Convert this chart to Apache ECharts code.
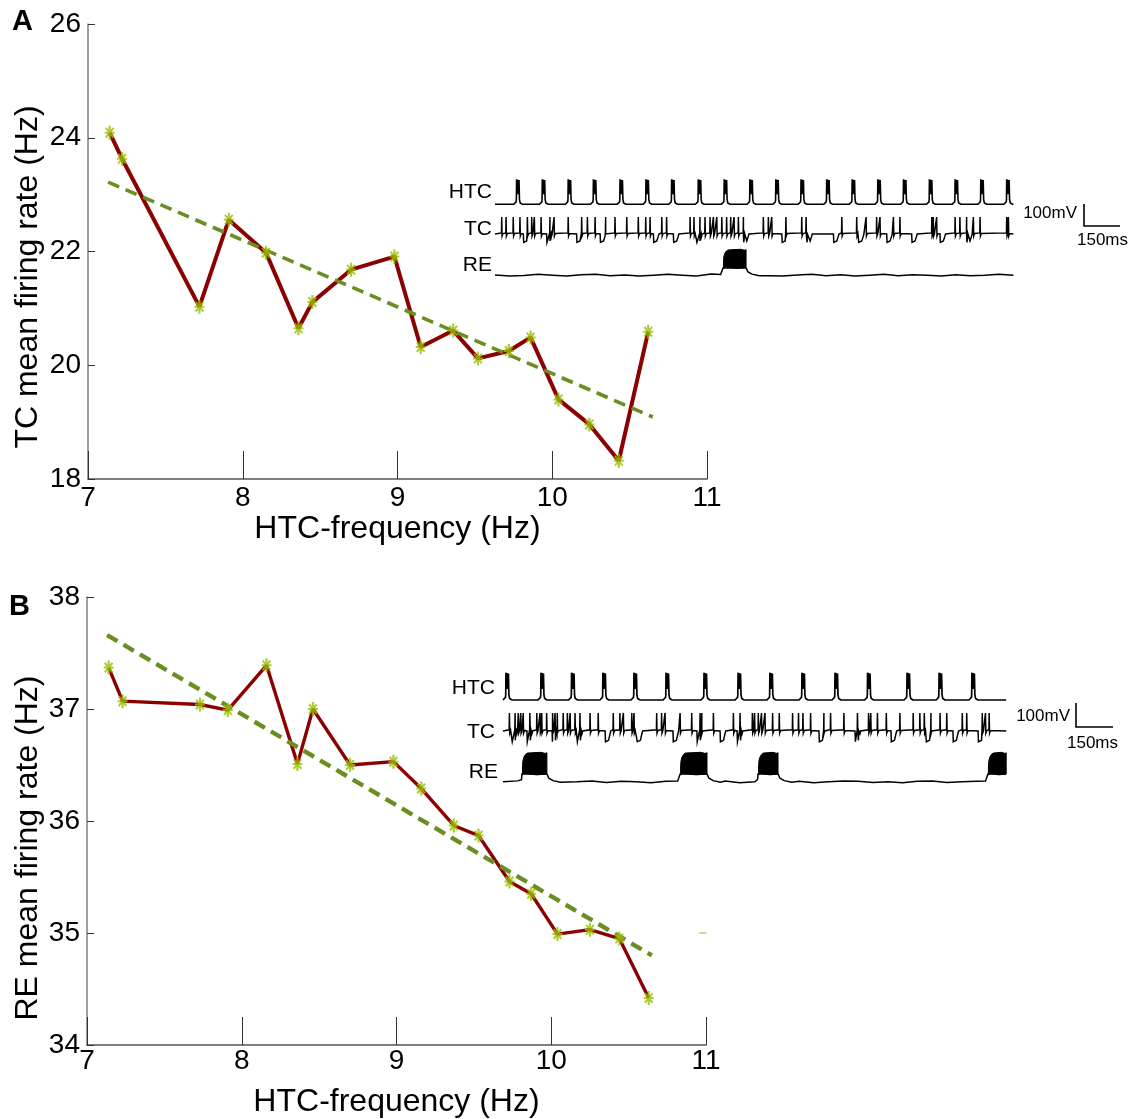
<!DOCTYPE html>
<html>
<head>
<meta charset="utf-8">
<script src="https://cdn.jsdelivr.net/npm/echarts@6/dist/echarts.min.js"></script>
<style>
  html, body { margin: 0; padding: 0; background: #fff; }
  #chart { width: 1133px; height: 1119px; }
</style>
</head>
<body>
<div id="chart"></div>
<script>
// ----- Panel A: TC mean firing rate vs HTC frequency -----
const htcFreqA = [7.14, 7.22, 7.72, 7.91, 8.15, 8.36, 8.45, 8.70, 8.98, 9.15, 9.36, 9.52, 9.72, 9.86, 10.04, 10.24, 10.43, 10.62];
const tcRate   = [24.09, 23.63, 21.03, 22.56, 21.98, 20.65, 21.11, 21.68, 21.91, 20.32, 20.61, 20.12, 20.25, 20.49, 19.40, 18.96, 18.32, 20.59];
const fitAx = [7.13, 10.65];
const fitAy = [23.22, 19.09];

// ----- Panel B: RE mean firing rate vs HTC frequency -----
const htcFreqB = [7.14, 7.23, 7.73, 7.91, 8.16, 8.36, 8.46, 8.70, 8.98, 9.16, 9.37, 9.53, 9.73, 9.87, 10.04, 10.25, 10.44, 10.63];
const reRate   = [37.37, 37.07, 37.04, 36.99, 37.39, 36.51, 37.00, 36.50, 36.53, 36.29, 35.96, 35.87, 35.46, 35.35, 34.99, 35.03, 34.95, 34.42];
const fitBx = [7.13, 10.65];
const fitBy = [37.66, 34.80];
const strayB = [[10.98, 35.0]];   // little green dash right of panel B

// ----- Inset traces (times in ms) -----
const SCALE_MS = 150;
const SCALE_MV = 100;
const RE_STEP = 60;   // ms between baseline samples of RE traces

// inset A
const htcSpikesA = [90, 197, 305, 410, 521, 629, 736, 847, 955, 1062, 1170, 1275, 1382, 1488, 1595, 1702, 1810, 1917, 2024, 2132];
const tcSpikesA = [28, 46, 76, 104, 135, 153, 164, 192, 229, 246, 305, 361, 385, 417, 461, 500, 549, 597, 628, 646, 695, 715,
  813, 829, 854, 875, 896, 910, 924, 945, 965, 982, 996, 1014, 1035, 1118, 1139, 1153, 1212, 1278, 1296, 1445, 1507, 1546,
  1590, 1604, 1660, 1687, 1820, 1826, 1840, 1917, 1937, 1965, 1993, 2021, 2132, 2139];
const tcDipsA = [118, 215, 340, 438, 660, 743, 840, 1035, 1195, 1299, 1410, 1514, 1632, 1736, 1854, 1965];
const reBaseA = [-72, -76, -74, -69, -73, -77, -71, -69, -75, -72, -77, -73, -69, -73, -76, -68, -72, -72, -72,
  -76, -77, -72, -69, -75, -71, -77, -73, -69, -75, -71, -73, -77, -71, -75, -73, -69, -73];
const reBurstsA = [[950, 1046]];

// inset B
const htcSpikesB = [12, 154, 278, 405, 531, 661, 815, 953, 1082, 1212, 1346, 1478, 1638, 1768, 1901];
const tcSpikesB = [26, 49, 62, 72, 82, 109, 137, 150, 157, 177, 201, 211, 220, 244, 261, 272, 292, 312, 353, 386, 447, 474,
  488, 522, 531, 623, 643, 657, 718, 765, 799, 806, 853, 934, 961, 1011, 1020, 1035, 1048, 1062, 1093, 1120, 1174, 1198,
  1216, 1247, 1301, 1328, 1382, 1437, 1482, 1491, 1518, 1554, 1609, 1663, 1690, 1708, 1735, 1772, 1799, 1862, 1880, 1943,
  1956, 1971];
const tcDipsB = [36, 97, 199, 300, 414, 543, 689, 786, 880, 949, 1281, 1427, 1573, 1715, 1824, 1926];
const reBaseB = [-73, -69, -76, -71, -77, -73, -69, -76, -71, -73, -77, -71, -69, -76, -73, -70, -77, -73, -69, -76,
  -71, -77, -73, -69, -71, -76, -73, -77, -71, -69, -76, -73, -71, -72, -72];
const reBurstsB = [[77, 178], [718, 827], [1034, 1115], [1966, 2040]];

// ----- Layout / style -----
const FONT = "'Liberation Sans', Arial, Helvetica, sans-serif";
const NARROW = "'Liberation Sans Narrow', 'Liberation Sans', Arial, sans-serif";
const RED = '#8b0000';
const MARK = '#9abf00';
const FIT = '#6b8e23';
const STAR = 'path://M3.9,0L6.1,0L6.1,14L3.9,14Z M0,6L10,6L10,8L0,8Z M0.4,2.9L1.9,1.5L9.6,11.1L8.1,12.5Z M8.1,1.5L9.6,2.9L1.9,12.5L0.4,11.1Z';

const insetA = { tEnd: 2160, xMax: 2604, yMax: 523, off: { htc: 433, tc: 292, re: 117.5 }, tcPeak: 17, tcDip: -98, blob: { top: 42, bot: -42 }, bar: { t: 2454, v: 268 } };
const insetB = { tEnd: 2040, xMax: 2473, yMax: 525, off: { htc: 441, tc: 306, re: 107 }, tcPeak: 15, tcDip: -105, blob: { top: 47, bot: -44 }, bar: { t: 2323, v: 262.5 } };

// ----- Helpers -----
function zip(xs, ys) { return xs.map((x, i) => [x, ys[i]]); }

function finish(pts, tEnd, off) {
  return pts.filter(p => p[0] >= 0 && p[0] <= tEnd)
    .sort((a, b) => a[0] - b[0])
    .map(p => [p[0], p[1] + off]);
}

// HTC: flat baseline, rounded take-off, thick spike burst
function htcTrace(spikes, tEnd, off) {
  const rest = -66;
  const pts = [[0, rest], [tEnd, rest]];
  const tpl = [[-12, -66], [-5, -63], [-2, -55], [-1, -45], [0, 48], [2, -20], [5, 46], [7, -20], [10, 44], [12, -45], [15, -60], [24, -66]];
  spikes.forEach(t => tpl.forEach(([dt, v]) => pts.push([t + dt, v])));
  return finish(pts, tEnd, off);
}

// TC: spikes plus short hyperpolarising dips
function tcTrace(spikes, dips, tEnd, off, peak, dip) {
  const rest = -60;
  const pts = [[0, rest], [tEnd, rest]];
  spikes.forEach(t => pts.push([t - 1, rest + 5], [t, peak], [t + 1.5, rest - 9], [t + 5, rest + 2]));
  dips.forEach(t => pts.push([t, rest], [t + 1.5, dip], [t + 14, dip + 6], [t + 20, rest - 12], [t + 23, rest]));
  return finish(pts, tEnd, off);
}

// RE: wiggly baseline, bursts drawn separately as filled blobs
function reTrace(base, bursts, tEnd, off) {
  const pts = [];
  base.forEach((v, i) => {
    const t = i * RE_STEP;
    if (bursts.some(([s, e]) => t > s - 12 && t < e + 60)) return;
    pts.push([t, v]);
  });
  bursts.forEach(([s, e]) => {
    pts.push([s - 10, -70], [s - 2, -64], [s, -40]);
    if (e < tEnd) pts.push([e, -40], [e + 8, -58], [e + 25, -68], [e + 55, -75]);
    else pts.push([tEnd, -40]);
  });
  return finish(pts, tEnd, off);
}

function traceSeries(idx, data, width) {
  return {
    type: 'line', xAxisIndex: idx, yAxisIndex: idx, data,
    symbol: 'none', silent: true, clip: false,
    lineStyle: { color: '#000', width: width || 1.3, join: 'miter' }
  };
}

function blobSeries(idx, bursts, inset) {
  return {
    type: 'custom', xAxisIndex: idx, yAxisIndex: idx, silent: true, clip: false,
    data: bursts.map(b => [b[0], b[1], 0]),
    encode: { x: [0, 1], y: 2 },
    renderItem: (params, api) => {
      const s = api.value(0), e = api.value(1);
      const top = inset.blob.top, bot = inset.blob.bot, off = inset.off.re;
      const w = e - s;
      const shape = [[s + 2, bot], [s + 2, -6], [s + 4, top * 0.35], [s + 8, top * 0.65], [s + 14, top * 0.88],
        [s + 22, top], [e - w * 0.25, top + 3], [e - 4, top - 2], [e, top + 2], [e, bot + 4], [e - w * 0.4, bot], [s + 10, bot + 6]];
      return {
        type: 'polygon',
        shape: { points: shape.map(p => api.coord([p[0], p[1] + off])) },
        style: { fill: '#000', stroke: '#000', lineWidth: 1 }
      };
    }
  };
}

function scaleBarSeries(idx, inset) {
  const b = inset.bar;
  return traceSeries(idx, [[b.t, b.v + SCALE_MV], [b.t, b.v], [b.t + SCALE_MS, b.v]], 1.6);
}

function mainXAxis(gridIndex, labelMargin, nameGap) {
  return {
    gridIndex, type: 'value', min: 7, max: 11, interval: 1,
    axisLine: { show: true, lineStyle: { color: '#555', width: 1.5 } },
    axisTick: { show: true, inside: true, length: 28, lineStyle: { color: '#333', width: 1 } },
    axisLabel: { color: '#000', fontSize: 28, fontFamily: FONT, margin: labelMargin, showMinLabel: true, showMaxLabel: true },
    splitLine: { show: false },
    name: 'HTC-frequency (Hz)', nameLocation: 'middle', nameGap,
    nameTextStyle: { color: '#000', fontSize: 32, fontFamily: FONT }
  };
}

function mainYAxis(gridIndex, min, max, interval) {
  return {
    gridIndex, type: 'value', min, max, interval,
    axisLine: { show: true, lineStyle: { color: '#7f7f7f', width: 1.5 } },
    axisTick: { show: true, inside: true, length: 7, lineStyle: { color: '#333', width: 1 } },
    axisLabel: { color: '#000', fontSize: 28, fontFamily: FONT, margin: 7, showMinLabel: true, showMaxLabel: true },
    splitLine: { show: false }
  };
}

function hiddenAxes(gridIndex, inset) {
  return {
    x: { gridIndex, type: 'value', min: 0, max: inset.xMax, show: false },
    y: { gridIndex, type: 'value', min: 0, max: inset.yMax, show: false }
  };
}

function text(str, x, y, opts) {
  const o = opts || {};
  return {
    type: 'text', x, y, rotation: o.rotation || 0, silent: true,
    style: {
      text: str, fill: '#000',
      fontSize: o.size || 18, fontFamily: o.family || FONT, fontWeight: o.weight || 'normal',
      textAlign: o.align || 'left', align: o.align || 'left',
      textVerticalAlign: 'middle', verticalAlign: 'middle'
    }
  };
}

function dataSeries(idx, xs, ys, fx, fy, fitWidth, lineWidth) {
  return [
    { type: 'line', xAxisIndex: idx, yAxisIndex: idx, data: zip(xs, ys), symbol: 'none',
      lineStyle: { color: RED, width: lineWidth }, z: 2 },
    { type: 'line', xAxisIndex: idx, yAxisIndex: idx, data: zip(fx, fy), symbol: 'none',
      lineStyle: { color: FIT, width: fitWidth, type: [12, 7], cap: 'butt' }, z: 3 },
    { type: 'scatter', xAxisIndex: idx, yAxisIndex: idx, data: zip(xs, ys), symbol: STAR,
      symbolSize: [10, 14], itemStyle: { color: MARK }, z: 4 }
  ];
}

// ----- Chart -----
const chart = echarts.init(document.getElementById('chart'));
const axA = hiddenAxes(2, insetA);
const axB = hiddenAxes(3, insetB);

chart.setOption({
  backgroundColor: '#fff',
  animation: false,
  grid: [
    { left: 88, top: 24, width: 619, height: 455 },
    { left: 87, top: 597, width: 619, height: 456 },
    { left: 495, top: 170, width: 625, height: 115 },
    { left: 503, top: 664, width: 610, height: 126 }
  ],
  xAxis: [mainXAxis(0, 5, 24), mainXAxis(1, 2, 41), axA.x, axB.x],
  yAxis: [mainYAxis(0, 18, 26, 2), mainYAxis(1, 34, 38, 1), axA.y, axB.y],
  series: [
    ...dataSeries(0, htcFreqA, tcRate, fitAx, fitAy, 3.6, 4),
    ...dataSeries(1, htcFreqB, reRate, fitBx, fitBy, 4.4, 3.4),
    { type: 'scatter', xAxisIndex: 1, yAxisIndex: 1, data: strayB, symbol: 'rect',
      symbolSize: [7, 1.5], itemStyle: { color: '#9acd32' } },

    // inset A
    traceSeries(2, htcTrace(htcSpikesA, insetA.tEnd, insetA.off.htc), 1.6),
    traceSeries(2, tcTrace(tcSpikesA, tcDipsA, insetA.tEnd, insetA.off.tc, insetA.tcPeak, insetA.tcDip), 1.5),
    traceSeries(2, reTrace(reBaseA, reBurstsA, insetA.tEnd, insetA.off.re), 1.5),
    blobSeries(2, reBurstsA, insetA),
    scaleBarSeries(2, insetA),

    // inset B
    traceSeries(3, htcTrace(htcSpikesB, insetB.tEnd, insetB.off.htc), 1.7),
    traceSeries(3, tcTrace(tcSpikesB, tcDipsB, insetB.tEnd, insetB.off.tc, insetB.tcPeak, insetB.tcDip), 1.5),
    traceSeries(3, reTrace(reBaseB, reBurstsB, insetB.tEnd, insetB.off.re), 1.5),
    blobSeries(3, reBurstsB, insetB),
    scaleBarSeries(3, insetB)
  ],
  graphic: [
    text('A', 12, 22, { size: 29, weight: 'bold' }),
    text('B', 9, 607, { size: 29, weight: 'bold' }),
    text('TC mean firing rate (Hz)', 28, 277, { size: 32, align: 'center', rotation: Math.PI / 2 }),
    text('RE mean firing rate (Hz)', 28, 848, { size: 32, align: 'center', rotation: Math.PI / 2 }),

    text('HTC', 492, 192, { size: 21, family: NARROW, align: 'right' }),
    text('TC', 492, 229, { size: 21, family: NARROW, align: 'right' }),
    text('RE', 492, 265, { size: 21, family: NARROW, align: 'right' }),
    text('100mV', 1077, 213, { size: 17, align: 'right' }),
    text('150ms', 1077, 240, { size: 17 }),

    text('HTC', 495, 688, { size: 21, family: NARROW, align: 'right' }),
    text('TC', 495, 732, { size: 21, family: NARROW, align: 'right' }),
    text('RE', 498, 772, { size: 21, family: NARROW, align: 'right' }),
    text('100mV', 1070, 716, { size: 17, align: 'right' }),
    text('150ms', 1067, 743, { size: 17 })
  ]
});

window.addEventListener('resize', () => chart.resize());
</script>
</body>
</html>
